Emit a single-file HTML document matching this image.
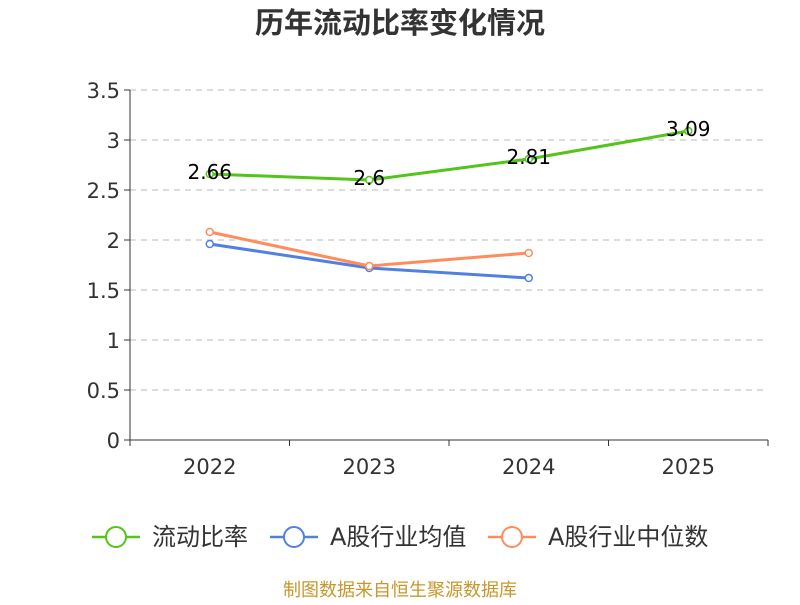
<!DOCTYPE html>
<html><head><meta charset="utf-8"><style>
body{margin:0;background:#fff;}
svg text{font-family:"DejaVu Sans","Noto Sans CJK SC",sans-serif;}
</style></head><body>
<svg id="c" width="800" height="600" xmlns="http://www.w3.org/2000/svg">
<text x="400" y="33" text-anchor="middle" font-size="29" font-weight="bold" fill="#333" style="font-family:'Liberation Sans','Noto Sans CJK SC',sans-serif">历年流动比率变化情况</text>
<g id="grid"></g><g id="axes"></g><g id="series"></g>
<g id="legend"></g>
<text x="400" y="596" text-anchor="middle" font-size="18" fill="#c8962a" style="font-family:'Liberation Sans','Noto Sans CJK SC',sans-serif">制图数据来自恒生聚源数据库</text>
</svg>
<script>
const categories=["2022","2023","2024","2025"];
const ratioValues=[2.66,2.6,2.81,3.09];
const industryAvg=[1.96,1.72,1.62];
const industryMedian=[2.08,1.74,1.87];
const yTicks=[0,0.5,1,1.5,2,2.5,3,3.5];
const seriesNames=["流动比率","A股行业均值","A股行业中位数"];
const NS="http://www.w3.org/2000/svg";
const x0=130,x1=768,y0=440,yTop=90,ymax=3.5;
const bw=(x1-x0)/categories.length;
const X=i=>x0+bw*(i+0.5);
const Y=v=>y0-(v/ymax)*(y0-yTop);
function mk(tag,attrs,parent){const e=document.createElementNS(NS,tag);for(const k in attrs)e.setAttribute(k,attrs[k]);parent.appendChild(e);return e;}
const grid=document.getElementById('grid'),axes=document.getElementById('axes'),ser=document.getElementById('series'),leg=document.getElementById('legend');
yTicks.forEach(t=>{
 if(t>0){const l=mk('line',{x1:x0,x2:x1,y1:Y(t),y2:Y(t),stroke:'#c8c8c8','stroke-dasharray':'6,5','stroke-width':1.2},grid);
 
 }
 mk('line',{x1:x0-6,x2:x0,y1:Y(t),y2:Y(t),stroke:'#333'},axes);
 const tx=mk('text',{x:x0-10,y:Y(t)+8,'text-anchor':'end','font-size':21,fill:'#333'},axes);
 tx.textContent=t;
 
 
});
mk('line',{x1:x0,x2:x0,y1:yTop,y2:y0,stroke:'#333'},axes);
mk('line',{x1:x0,x2:x1,y1:y0,y2:y0,stroke:'#333'},axes);
for(let i=0;i<=categories.length;i++)mk('line',{x1:x0+bw*i,x2:x0+bw*i,y1:y0,y2:y0+6,stroke:'#333'},axes);
categories.forEach((c,i)=>{const t=mk('text',{x:X(i),y:y0+34,'text-anchor':'middle','font-size':21,fill:'#333'},axes);t.textContent=c;
 
 });
function drawSeries(vals,color,name,labels){
 const g=mk('g',{},ser);
 
 
 mk('polyline',{points:vals.map((v,i)=>X(i)+','+Y(v)).join(' '),fill:'none',stroke:color,'stroke-width':3},g);
 vals.forEach((v,i)=>{const c=mk('circle',{cx:X(i),cy:Y(v),r:3.5,fill:'#fff',stroke:color,'stroke-width':1.5},g);
  
  
  if(labels){const t=mk('text',{x:X(i),y:Y(v)+5,'text-anchor':'middle','font-size':20,fill:'#000'},g);t.textContent=v;
   
   }});
}
drawSeries(industryAvg,'#5080e0','series-industry-avg',false);
drawSeries(industryMedian,'#ff8c5a','series-industry-median',false);
drawSeries(ratioValues,'#52c41a','series-current-ratio',true);
const colors=['#52c41a','#5080e0','#ff8c5a'];const lx=[92,270,488];
seriesNames.forEach((n,i)=>{const g=mk('g',{},leg);
 
 
 mk('line',{x1:lx[i],x2:lx[i]+48,y1:537,y2:537,stroke:colors[i],'stroke-width':2.5},g);
 mk('circle',{cx:lx[i]+24,cy:537,r:10,fill:'#fff',stroke:colors[i],'stroke-width':2},g);
 const t=mk('text',{x:lx[i]+60,y:545,'font-size':24,fill:'#333'},g);t.textContent=n;});
</script>
</body></html>
